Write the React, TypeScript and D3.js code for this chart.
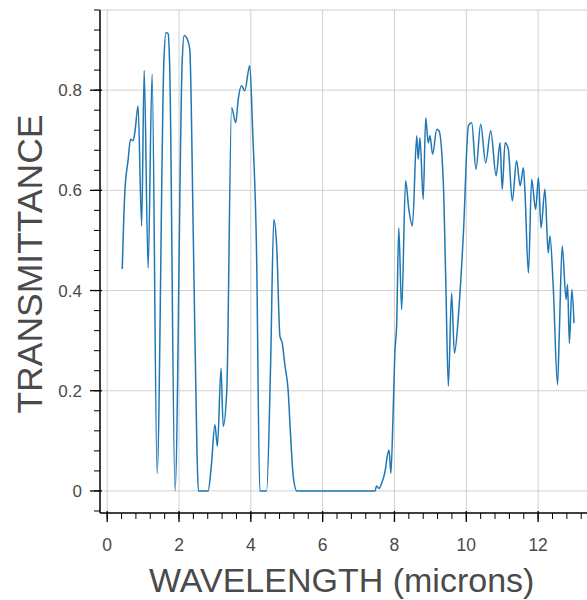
import React from "react";
import * as d3 from "d3";

const wavelength = [
  0.42, 0.49, 0.585, 0.65, 0.72, 0.77, 0.86, 0.96, 1.03, 1.14, 1.25, 1.39, 1.58, 1.635, 1.7, 1.74,
  1.89, 2.09, 2.14, 2.23, 2.3, 2.4, 2.5, 2.54, 2.81, 2.9, 3.0, 3.07, 3.17, 3.23, 3.33, 3.465,
  3.58, 3.65, 3.74, 3.83, 3.97, 4.05, 4.16, 4.25, 4.44, 4.55, 4.64, 4.72, 4.81, 4.875, 4.95, 5.04,
  5.1, 5.18, 5.28, 7.46, 7.5, 7.57, 7.64, 7.74, 7.8, 7.85, 7.9, 7.96, 8.01, 8.06, 8.12,
  8.2, 8.31, 8.4, 8.5, 8.62, 8.66, 8.71, 8.8, 8.87, 8.94, 8.99, 9.06, 9.18, 9.24, 9.36, 9.43,
  9.5, 9.59, 9.67, 9.78, 9.92, 10.06, 10.15, 10.27, 10.4, 10.54, 10.68, 10.83, 10.94, 11.0, 11.08,
  11.17, 11.28, 11.4, 11.5, 11.59, 11.63, 11.73, 11.82, 11.93, 12.01, 12.08, 12.19, 12.28, 12.33,
  12.42, 12.54, 12.59, 12.67, 12.78, 12.82, 12.87, 12.94, 13.0,
];

const transmittance = [
  0.443, 0.595, 0.662, 0.702, 0.699, 0.715, 0.769, 0.529, 0.839, 0.445, 0.832, 0.035, 0.86, 0.915, 0.912, 0.85,
  0.0, 0.86, 0.909, 0.902, 0.882, 0.5, 0.08, 0.0, 0.0, 0.05, 0.132, 0.089, 0.245, 0.129, 0.2, 0.765,
  0.735, 0.782, 0.809, 0.799, 0.849, 0.72, 0.475, 0.0, 0.0, 0.25, 0.542, 0.489, 0.309, 0.295, 0.25, 0.2,
  0.12, 0.03, 0.0, 0.0, 0.01, 0.005, 0.015, 0.04, 0.07, 0.082, 0.035, 0.15, 0.275, 0.33, 0.525,
  0.362, 0.619, 0.562, 0.529, 0.709, 0.662, 0.705, 0.582, 0.745, 0.695, 0.709, 0.672, 0.722, 0.719, 0.615, 0.415,
  0.209, 0.395, 0.275, 0.349, 0.515, 0.729, 0.735, 0.642, 0.732, 0.655, 0.719, 0.629, 0.695, 0.602, 0.695,
  0.682, 0.579, 0.659, 0.609, 0.645, 0.602, 0.435, 0.622, 0.562, 0.625, 0.525, 0.602, 0.475, 0.509,
  0.409, 0.212, 0.315, 0.489, 0.382, 0.412, 0.295, 0.402, 0.335,
];

const xMajorTicks = [0, 2, 4, 6, 8, 10, 12];
const yMajorTicks = [0, 0.2, 0.4, 0.6, 0.8];
const xLabel = "WAVELENGTH (microns)";
const yLabel = "TRANSMITTANCE";

const W = 587;
const H = 600;
const left = 100;
const top = 10;
const bottom = 513;
const right = 588.4;

export default function App() {
  const x = d3.scaleLinear().domain([-0.2, 13.4]).range([left, right]);
  const y = d3.scaleLinear().domain([-0.044, 0.96]).range([bottom, top]);

  const xMinor = d3.range(0, 13.4, 0.4).map((v) => +v.toFixed(2)).filter((v) => x(v) >= left && x(v) <= W);
  const yMinor = d3.range(-0.04, 0.961, 0.04).map((v) => +v.toFixed(3)).filter((v) => y(v) <= bottom && y(v) >= top);

  const pts: [number, number][] = wavelength.map((w, i) => [w, transmittance[i]]);
  const line = d3
    .line<[number, number]>()
    .x((d) => x(d[0]))
    .y((d) => y(d[1]))
    .curve(d3.curveMonotoneX);

  const font = "'Liberation Sans', Arial, Helvetica, sans-serif";
  const gridColor = "#d0d0d0";
  const textColor = "#4a4a4a";

  return (
    <svg width={W} height={H} style={{ position: "absolute", left: 0, top: 0, background: "#fff" }}>
      <rect x={0} y={0} width={W} height={H} fill="#fff" />
      {xMajorTicks.map((t) => (
        <line key={"gx" + t} x1={x(t)} x2={x(t)} y1={top} y2={bottom} stroke={gridColor} strokeWidth={1} />
      ))}
      {yMajorTicks.map((t) => (
        <line key={"gy" + t} x1={left} x2={W} y1={y(t)} y2={y(t)} stroke={gridColor} strokeWidth={1} />
      ))}
      <line x1={left} x2={W} y1={top} y2={top} stroke={gridColor} strokeWidth={1} />
      <path d={line(pts) || ""} fill="none" stroke="#1f77b4" strokeWidth={1.5} strokeLinejoin="round" />
      <line x1={left} x2={W} y1={bottom} y2={bottom} stroke="#000" strokeWidth={1.5} />
      <line x1={left} x2={left} y1={top} y2={bottom} stroke="#000" strokeWidth={1.5} />
      {xMinor.map((t) => (
        <line key={"xm" + t} x1={x(t)} x2={x(t)} y1={bottom} y2={bottom + 6} stroke="#000" strokeWidth={1} />
      ))}
      {xMajorTicks.map((t) => (
        <line key={"xM" + t} x1={x(t)} x2={x(t)} y1={bottom - 2} y2={bottom + 9} stroke="#000" strokeWidth={1.3} />
      ))}
      {yMinor.map((t) => (
        <line key={"ym" + t} x1={left - 6} x2={left} y1={y(t)} y2={y(t)} stroke="#000" strokeWidth={1} />
      ))}
      {yMajorTicks.map((t) => (
        <line key={"yM" + t} x1={left - 10} x2={left + 2} y1={y(t)} y2={y(t)} stroke="#000" strokeWidth={1.3} />
      ))}
      {xMajorTicks.map((t) => (
        <text key={"xl" + t} x={x(t)} y={550.5} textAnchor="middle" fontFamily={font} fontSize={17.5} fill={textColor}>
          {d3.format("~g")(t)}
        </text>
      ))}
      {yMajorTicks.map((t) => (
        <text key={"yl" + t} x={82} y={y(t)} dy="0.35em" textAnchor="end" fontFamily={font} fontSize={17} fill={textColor}>
          {d3.format("~g")(t)}
        </text>
      ))}
      <text x={341.7} y={592} textAnchor="middle" fontFamily={font} fontSize={34} fill={textColor}>
        {xLabel}
      </text>
      <text
        transform={`translate(41.7, 264) rotate(-90)`}
        textAnchor="middle"
        fontFamily={font}
        fontSize={35.5}
        fill={textColor}
      >
        {yLabel}
      </text>
    </svg>
  );
}
